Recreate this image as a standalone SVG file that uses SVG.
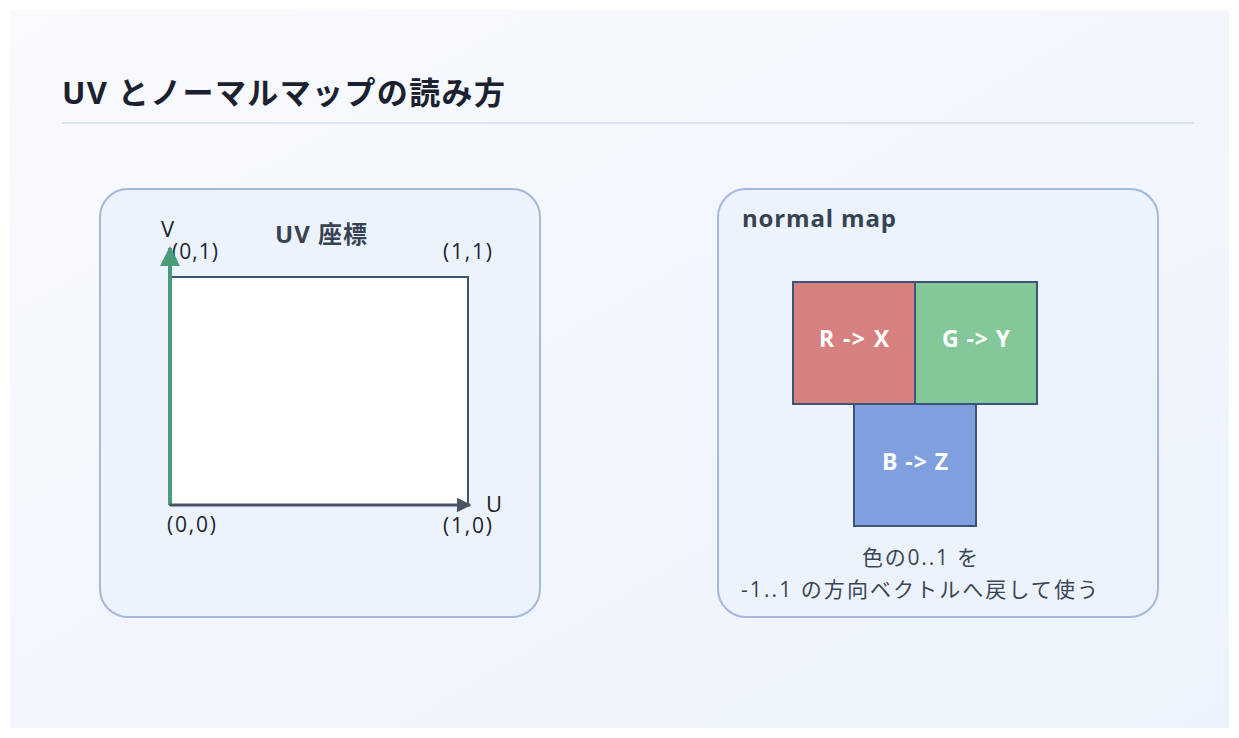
<svg xmlns="http://www.w3.org/2000/svg" width="1239" height="738" viewBox="0 0 1239 738">
<defs>
<linearGradient id="bg" x1="0" y1="0" x2="1" y2="1">
<stop offset="0" stop-color="#f8fafd"/>
<stop offset="1" stop-color="#edf3fc"/>
</linearGradient>
<marker id="arrG" viewBox="0 0 10 10" refX="9" refY="5" markerWidth="5" markerHeight="5" markerUnits="strokeWidth" orient="auto">
<path d="M0,0 L10,5 L0,10 z" fill="#4b9b7b"/>
</marker>
<marker id="arrD" viewBox="0 0 10 10" refX="9" refY="5" markerWidth="5" markerHeight="5" markerUnits="strokeWidth" orient="auto">
<path d="M0,0 L10,5 L0,10 z" fill="#4a5361"/>
</marker>
<style>
text{font-family:"Open Sans","Noto Sans CJK JP",sans-serif;}
.panel{fill:#edf3fd;stroke:#a3b8db;stroke-width:2;}
.h{font-size:24px;font-weight:700;fill:#374253;}
.lbl{font-size:21px;fill:#1e2330;}
.ax{font-size:22px;fill:#1e2330;}
.cell{stroke:#3b5478;stroke-width:2;}
.ct{font-size:23px;font-weight:700;fill:#ffffff;}
.note{font-size:21px;fill:#3a4556;}
</style>
</defs>
<rect x="0" y="0" width="1239" height="738" fill="#ffffff"/>
<rect x="10" y="10" width="1219" height="718" fill="url(#bg)"/>
<text x="62" y="104" font-size="31" font-weight="700" fill="#1b2130" textLength="443" lengthAdjust="spacing">UV とノーマルマップの読み方</text>
<line x1="62" y1="123" x2="1194" y2="123" stroke="#d9e2ef" stroke-width="2"/>

<g id="uv-panel">
<rect class="panel" x="100" y="189" width="440" height="428" rx="28"/>
<text class="h" x="275" y="243" textLength="92" lengthAdjust="spacing">UV 座標</text>
<rect x="170" y="277" width="298" height="228" fill="#ffffff" stroke="#3b5478" stroke-width="2"/>
<text class="ax" x="161" y="237">V</text>
<text class="lbl" x="172" y="259" textLength="46" lengthAdjust="spacing">(0,1)</text>
<text class="lbl" x="443" y="259" textLength="49" lengthAdjust="spacing">(1,1)</text>
<text class="lbl" x="167" y="532" textLength="49" lengthAdjust="spacing">(0,0)</text>
<text class="lbl" x="443" y="533" textLength="49" lengthAdjust="spacing">(1,0)</text>
<text class="ax" x="486" y="512">U</text>
</g>

<g id="connectors">
<line x1="170" y1="505" x2="170" y2="248" stroke="#4b9b7b" stroke-width="4" marker-end="url(#arrG)"/>
<line x1="170" y1="505" x2="470" y2="505" stroke="#4a5361" stroke-width="3" marker-end="url(#arrD)"/>
</g>

<g id="normal-panel">
<rect class="panel" x="718" y="189" width="440" height="428" rx="28"/>
<text class="h" x="742" y="227" textLength="154" lengthAdjust="spacing">normal map</text>
</g>
<g id="r-cell">
<rect class="cell" x="793" y="282" width="122" height="122" fill="#d68080"/>
<text class="ct" x="819" y="347" textLength="70" lengthAdjust="spacing">R -&gt; X</text>
</g>
<g id="g-cell">
<rect class="cell" x="915" y="282" width="122" height="122" fill="#84c89a"/>
<text class="ct" x="942" y="347" textLength="68" lengthAdjust="spacing">G -&gt; Y</text>
</g>
<g id="b-cell">
<rect class="cell" x="854" y="404" width="122" height="122" fill="#7f9fde"/>
<text class="ct" x="882" y="470" textLength="66" lengthAdjust="spacing">B -&gt; Z</text>
</g>
<g id="note">
<text class="note" x="862" y="565" textLength="116" lengthAdjust="spacing">色の0..1 を</text>
<text class="note" x="741" y="597" textLength="357" lengthAdjust="spacing">-1..1 の方向ベクトルへ戻して使う</text>
</g>
</svg>
